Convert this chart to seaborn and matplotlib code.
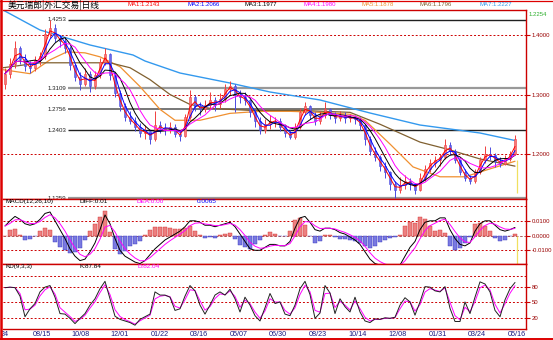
import numpy as np
import pandas as pd
import matplotlib
matplotlib.use("Agg")
import matplotlib.pyplot as plt
from matplotlib.lines import Line2D
import seaborn as sns

sns.set_style("white")
plt.rcParams['font.family'] = ['Liberation Sans', 'Noto Sans CJK SC', 'DejaVu Sans']

# ---------------- data ----------------
title = "美元瑞郎|外汇交易|日线"
ma_names = ["MA1", "MA2", "MA3", "MA4", "MA5", "MA6", "MA7"]
ma_last = [1.2143, 1.2066, 1.1977, 1.1980, 1.1878, 1.1796, 1.2227]
ma_windows = [2, 3, 5, 7]  # short averages, in bars of this sampled series

open_ = [1.318,1.335,1.352,1.378,1.360,1.348,1.345,1.358,1.365,1.402,
         1.412,1.395,1.390,1.378,1.350,1.330,1.318,1.335,1.315,1.332,
         1.355,1.368,1.332,1.302,1.280,1.262,1.256,1.245,1.236,1.238,
         1.225,1.248,1.244,1.240,1.246,1.234,1.230,1.262,1.296,1.280,
         1.275,1.282,1.290,1.284,1.292,1.310,1.314,1.300,1.295,1.290,
         1.270,1.255,1.240,1.250,1.255,1.256,1.245,1.235,1.228,1.245,
         1.270,1.280,1.265,1.255,1.265,1.275,1.265,1.260,1.265,1.260,
         1.262,1.258,1.248,1.225,1.205,1.195,1.180,1.170,1.150,1.140,
         1.148,1.155,1.150,1.140,1.160,1.175,1.185,1.190,1.195,1.215,
         1.205,1.190,1.170,1.160,1.155,1.170,1.190,1.200,1.198,1.188,
         1.184,1.192,1.200]
high = [1.345,1.362,1.390,1.382,1.368,1.356,1.365,1.372,1.410,1.4253,
        1.418,1.400,1.396,1.382,1.352,1.338,1.345,1.340,1.340,1.362,
        1.378,1.370,1.338,1.308,1.285,1.272,1.262,1.252,1.248,1.240,
        1.272,1.255,1.252,1.254,1.250,1.240,1.268,1.308,1.300,1.288,
        1.290,1.305,1.295,1.302,1.318,1.322,1.318,1.308,1.305,1.292,
        1.275,1.262,1.258,1.265,1.262,1.260,1.250,1.240,1.252,1.278,
        1.287,1.282,1.270,1.272,1.287,1.278,1.270,1.272,1.270,1.268,
        1.266,1.262,1.250,1.230,1.212,1.198,1.186,1.172,1.155,1.162,
        1.165,1.160,1.152,1.168,1.182,1.192,1.196,1.200,1.225,1.220,
        1.208,1.192,1.175,1.165,1.175,1.195,1.213,1.212,1.202,1.195,
        1.198,1.205,1.232]
low = [1.310,1.328,1.345,1.352,1.340,1.336,1.340,1.350,1.360,1.395,
       1.388,1.380,1.370,1.342,1.322,1.308,1.315,1.305,1.310,1.328,
       1.350,1.325,1.295,1.272,1.255,1.250,1.238,1.228,1.226,1.217,
       1.222,1.236,1.232,1.236,1.228,1.222,1.228,1.258,1.272,1.266,
       1.270,1.276,1.272,1.278,1.288,1.300,1.270,1.285,1.282,1.262,
       1.245,1.233,1.236,1.242,1.245,1.238,1.228,1.225,1.226,1.242,
       1.265,1.258,1.248,1.250,1.260,1.258,1.252,1.255,1.252,1.254,
       1.250,1.240,1.215,1.198,1.188,1.172,1.160,1.140,1.1259,1.135,
       1.142,1.140,1.133,1.138,1.155,1.170,1.178,1.180,1.192,1.198,
       1.185,1.165,1.155,1.150,1.152,1.166,1.185,1.190,1.178,1.178,
       1.182,1.188,1.198]
close = [1.335,1.352,1.378,1.360,1.348,1.345,1.358,1.365,1.402,1.412,
         1.395,1.390,1.378,1.350,1.330,1.318,1.335,1.315,1.332,1.355,
         1.368,1.332,1.302,1.280,1.262,1.256,1.245,1.236,1.238,1.225,
         1.248,1.244,1.240,1.246,1.234,1.230,1.262,1.296,1.280,1.275,
         1.282,1.290,1.284,1.292,1.310,1.314,1.300,1.295,1.290,1.270,
         1.255,1.240,1.250,1.255,1.256,1.245,1.235,1.228,1.245,1.270,
         1.280,1.265,1.255,1.265,1.275,1.265,1.260,1.265,1.260,1.262,
         1.258,1.248,1.225,1.205,1.195,1.180,1.170,1.150,1.140,1.148,
         1.155,1.150,1.140,1.160,1.175,1.185,1.190,1.195,1.215,1.205,
         1.190,1.170,1.160,1.155,1.170,1.190,1.200,1.198,1.188,1.184,
         1.192,1.200,1.2254]

# long moving averages (bar index, value)
ma5_idx = [-0.4, 5, 9, 12.4, 16, 19, 23, 27, 31, 34, 39, 45, 51, 57, 63, 69, 72, 77, 81.6, 87, 92, 97, 102]
ma5_val = [1.3417, 1.335, 1.3583, 1.3717, 1.370, 1.3633, 1.3467, 1.3133, 1.275, 1.2567, 1.2567, 1.2683,
           1.2717, 1.2717, 1.270, 1.2667, 1.2567, 1.2167, 1.1783, 1.1617, 1.1617, 1.175, 1.1878]
ma6_idx = [-0.4, 7, 21, 25, 29, 33, 37, 41, 49, 59, 69, 75, 83, 88.4, 95, 102]
ma6_val = [1.345, 1.3533, 1.3533, 1.345, 1.325, 1.300, 1.2833, 1.2767, 1.2733, 1.2733, 1.270, 1.250,
           1.220, 1.2083, 1.1917, 1.1796]
ma7_idx = [-0.4, 7, 17, 25.6, 28, 35, 45, 53, 63, 73, 83, 95, 102]
ma7_val = [1.442, 1.4084, 1.3832, 1.3664, 1.3563, 1.3361, 1.3193, 1.3042, 1.2908, 1.2689, 1.2487, 1.2353, 1.2227]

# golden-section levels
fib_levels = [1.4253, 1.3109, 1.2756, 1.2403, 1.1259]

# MACD(12,26,10) DIFF line
macd_diff = [0.0065,0.010,0.013,0.011,0.008,0.007,0.008,0.011,0.015,0.016,
             0.010,0.004,-0.002,-0.009,-0.014,-0.017,-0.016,-0.011,-0.005,0.004,
             0.014,0.008,-0.002,-0.010,-0.014,-0.016,-0.018,-0.019,-0.017,-0.013,
             -0.009,-0.006,-0.003,-0.001,0.001,0.003,0.006,0.010,0.010,0.009,
             0.007,0.007,0.006,0.007,0.008,0.009,0.006,0.001,-0.004,-0.009,
             -0.010,-0.010,-0.008,-0.006,-0.006,-0.007,-0.007,-0.004,0.005,0.012,
             0.013,0.009,0.004,0.003,0.005,0.005,0.004,0.002,0.001,-0.001,
             -0.003,-0.006,-0.011,-0.016,-0.019,-0.020,-0.021,-0.021,-0.021,-0.020,
             -0.014,-0.008,-0.004,0.004,0.009,0.010,0.010,0.012,0.012,0.004,
             -0.002,-0.006,-0.007,-0.005,0.003,0.008,0.010,0.010,0.007,0.004,
             0.003,0.004,0.0055]

# KD (9,3,3) K line
k_line = [78,79,78,62,23,38,48,70,79,82,
          60,29,28,20,10,20,29,45,57,76,
          90,57,24,18,15,12,7,18,23,28,
          70,64,64,60,35,38,62,82,72,45,
          28,45,64,70,64,75,57,32,60,45,
          25,15,40,67,48,51,28,25,45,76,
          90,65,20,30,82,68,29,57,42,32,
          60,32,15,12,19,18,21,20,22,45,
          59,51,26,51,80,79,72,70,80,39,
          14,14,51,29,60,89,85,70,35,23,
          55,76,87.84]

date_labels = ["24", "08/15", "10/08", "12/01", "01/22", "03/16", "05/07", "06/30",
               "08/23", "10/14", "12/08", "01/31", "03/24", "05/16"]
date_idx = [0, 7.4, 15.2, 23, 31, 38.8, 46.8, 54.6, 62.6, 70.6, 78.6, 86.6, 94.4, 102.4]

# ---------------- figure ----------------
W, H = 553, 340
fig = plt.figure(figsize=(W / 100, H / 100), dpi=100)
fig.patch.set_facecolor("white")


def ax_px(l, t, r, b):
    return fig.add_axes([l / W, 1 - b / H, (r - l) / W, (b - t) / H])


ax1 = ax_px(3, 10, 526, 199)
ax2 = ax_px(3, 199, 526, 264)
ax3 = ax_px(3, 264, 526, 329)

RED = "#cc0000"
LAB = "#990000"
XL = (-0.4, 104.2)

df = pd.DataFrame({"o": open_, "h": high, "l": low, "c": close})
df["i"] = np.arange(len(df))

for ax in (ax1, ax2, ax3):
    ax.set_xlim(*XL)
    ax.set_facecolor("white")
    for s in ax.spines.values():
        s.set_color(RED)
        s.set_linewidth(1.0)
    ax.spines["left"].set_visible(False)
    ax.set_xticks([])
    ax.tick_params(axis="y", left=False, right=True, labelleft=False, labelright=True,
                   length=3, width=0.8, color=RED, labelcolor=LAB, labelsize=4.3, pad=1)
    ax.grid(False)

# ---- main panel ----
ax1.set_ylim(1.12437, 1.44202)
for v in (1.4, 1.3, 1.2):
    ax1.axhline(v, color=RED, lw=0.7, ls=(0, (2, 2)), zorder=1)
fib_colors = ["#202020", "#999999", "#606060", "#202020", "#999999"]
fib_widths = [1.0, 1.6, 1.2, 1.0, 1.6]
for v, c, w in zip(fib_levels, fib_colors, fib_widths):
    ax1.hlines(v, 12.7, XL[1], color=c, lw=w, zorder=1)
    ax1.text(8.6, v, f"{v:.4f}", fontsize=4.4, color="#202020", va="center", ha="left", zorder=1)

up = df["c"] >= df["o"]
col = np.where(up, "#f04040", "#4a4ae0")
ax1.vlines(df["i"], df["l"], df["h"], colors=col, lw=0.7, zorder=3)
ax1.bar(df["i"], (df["c"] - df["o"]).abs().clip(lower=0.0012), bottom=df[["o", "c"]].min(axis=1),
        width=0.55, color=np.where(up, "#f57878", "#6a6ae8"), edgecolor=col, linewidth=0.4, zorder=3)

ma_colors = ["#ff0000", "#0000ff", "#000000", "#ff00ff", "#f09030", "#806030", "#3399ee"]
for w, c in zip(ma_windows, ma_colors[:4]):
    m = df["c"].rolling(w, min_periods=1).mean()
    sns.lineplot(x=df["i"], y=m, ax=ax1, color=c, lw=0.7, zorder=4, estimator=None)
sns.lineplot(x=ma5_idx, y=ma5_val, ax=ax1, color=ma_colors[4], lw=0.9, zorder=2, estimator=None)
sns.lineplot(x=ma6_idx, y=ma6_val, ax=ax1, color=ma_colors[5], lw=0.9, zorder=2, estimator=None)
sns.lineplot(x=ma7_idx, y=ma7_val, ax=ax1, color=ma_colors[6], lw=1.0, zorder=2, estimator=None)
ax1.vlines(102.4, 1.135, 1.19, color="#f0e060", lw=0.9, zorder=2)
ax1.set_yticks([1.2, 1.3, 1.4])
ax1.set_yticklabels(["1.2000", "1.3000", "1.4000"])
ax1.set_xlabel("")
ax1.set_ylabel("")

# ---- MACD panel ----
diff = pd.Series(macd_diff, dtype=float)
dea = diff.ewm(alpha=0.5, adjust=False).mean()
hist = 2 * (diff - dea)
ax2.set_ylim(-0.0193, 0.0248)
for v in (0.02, 0.01, -0.01):
    ax2.axhline(v, color=RED, lw=0.7, ls=(0, (2, 2)), zorder=1)
ax2.axhline(0, color="#a04040", lw=0.6, ls=(0, (3, 2)), zorder=1)
ax2.bar(df["i"], hist, width=0.95, color=np.where(hist >= 0, "#ec8080", "#7a7ae0"),
        edgecolor=np.where(hist >= 0, "#d03030", "#3030c0"), linewidth=0.3, zorder=2)
sns.lineplot(x=df["i"], y=diff, ax=ax2, color="black", lw=0.7, zorder=3, estimator=None)
sns.lineplot(x=df["i"], y=dea, ax=ax2, color="#ff00ff", lw=0.7, zorder=3, estimator=None)
ax2.vlines(102.4, -0.0193, 0.0, color="#f0e060", lw=0.9, zorder=1)
ax2.set_yticks([0.01, 0.0, -0.01])
ax2.set_yticklabels(["0.0100", "0.0000", "-0.0100"])
ax2.set_xlabel("")
ax2.set_ylabel("")
ax2.text(0.0, 0.0248, "MACD(12,26,10)", fontsize=4.6, color="black", va="top", ha="left")
ax2.text(15.0, 0.0248, "DIFF:0.01", fontsize=4.6, color="black", va="top", ha="left")
ax2.text(26.4, 0.0248, "DEA:0.00", fontsize=4.6, color="#ff00ff", va="top", ha="left")
ax2.text(38.4, 0.0248, "0.0065", fontsize=4.6, color="#0000ff", va="top", ha="left")

# ---- KD panel ----
k_s = pd.Series(k_line, dtype=float)
d_s = k_s.ewm(alpha=0.7, adjust=False).mean()
ax3.set_ylim(-0.2, 122.8)
for v in (100, 80, 50, 20):
    ax3.axhline(v, color=RED, lw=0.7, ls=(0, (2, 2)), zorder=1)
sns.lineplot(x=df["i"], y=d_s, ax=ax3, color="#ff00ff", lw=0.7, zorder=2, estimator=None)
sns.lineplot(x=df["i"], y=k_s, ax=ax3, color="#202020", lw=0.7, zorder=3, estimator=None)
ax3.set_yticks([80, 50, 20])
ax3.set_yticklabels(["80", "50", "20"])
ax3.set_xlabel("")
ax3.set_ylabel("")
ax3.text(0.0, 122.8, "KD(9,3,3)", fontsize=4.6, color="black", va="top", ha="left")
ax3.text(15.0, 122.8, "K:87.84", fontsize=4.6, color="black", va="top", ha="left")
ax3.text(26.6, 122.8, "D:82.04", fontsize=4.6, color="#ff00ff", va="top", ha="left")
for lab, xi in zip(date_labels, date_idx):
    ax3.text(xi, -3.5, lab, fontsize=5.2, color="#1a1a80", ha="center", va="top", clip_on=False)

# ---- header ----
fig.text(8 / W, 1 - 5 / H, title, fontsize=6.3, color="black", va="center", ha="left",
         family=["Noto Sans CJK SC", "DejaVu Sans"])
ma_px = [128, 187, 245, 303, 362, 420, 479]
for name, val, c, px in zip(ma_names, ma_last, ma_colors, ma_px):
    fig.text(px / W, 1 - 5 / H, f"{name}:{val:.4f}", fontsize=4.3, color=c, va="center", ha="left")
fig.text(529 / W, 1 - 15 / H, "1.2254", fontsize=4.3, color="#30b030", va="center", ha="left")

# window frame
fig.add_artist(Line2D([1.2 / W, 1.2 / W], [0, 1], color="#dd0000", lw=1.8))
fig.add_artist(Line2D([0, 1], [1 - 0.5 / H, 1 - 0.5 / H], color="#dd0000", lw=0.9))
fig.add_artist(Line2D([0, 1], [1.0 / H, 1.0 / H], color="#dd0000", lw=1.4))

fig.savefig("out.png", dpi=100, facecolor="white")
